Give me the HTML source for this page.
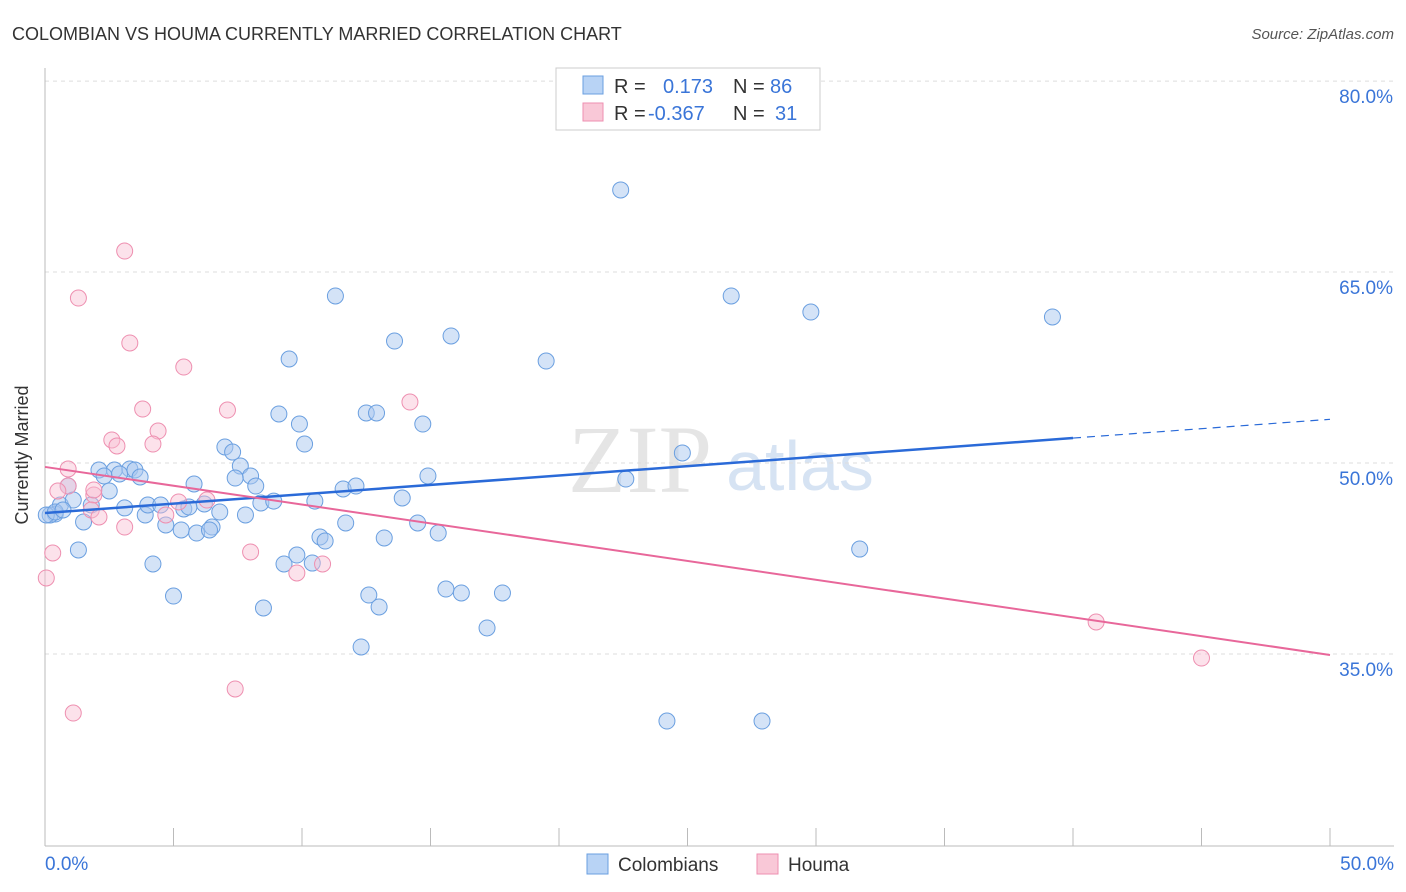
<!DOCTYPE html>
<html><head><meta charset="utf-8"><style>
body{margin:0;background:#fff;font-family:"Liberation Sans",sans-serif;}
</style></head><body>
<svg id="chart" width="1406" height="892" style="display:block">
<text x="12" y="40" font-size="18" fill="#333">COLOMBIAN VS HOUMA CURRENTLY MARRIED CORRELATION CHART</text>
<text x="1394" y="39" font-size="15" fill="#555" font-style="italic" text-anchor="end">Source: ZipAtlas.com</text>
<text x="640" y="492" font-size="96" fill="#e5e5e5" font-family="Liberation Serif,serif" text-anchor="middle">ZIP</text>
<text x="800" y="490" font-size="70" fill="#d6e3f3" text-anchor="middle">atlas</text>
<g id="grid"></g><g id="marks"></g>
<text x="28" y="455" font-size="18" fill="#333" transform="rotate(-90 28 455)" text-anchor="middle">Currently Married</text>
<g>
<rect x="556" y="68" width="264" height="62" fill="#fff" stroke="#ccc"/>
<rect x="583" y="76" width="20" height="18" fill="#b8d3f5" stroke="#6a9fe0"/>
<rect x="583" y="103" width="20" height="18" fill="#f9c8d7" stroke="#ee8fb0"/>
<text x="614" y="93" font-size="20" fill="#333">R =  <tspan fill="#3a75d8" x="663">0.173</tspan><tspan x="733" fill="#333">N = </tspan><tspan fill="#3a75d8" x="770">86</tspan></text>
<text x="614" y="120" font-size="20" fill="#333">R = <tspan fill="#3a75d8" x="648">-0.367</tspan><tspan x="733" fill="#333">N = </tspan><tspan fill="#3a75d8" x="775">31</tspan></text>
</g>
<g>
<rect x="587" y="854" width="21" height="20" fill="#b8d3f5" stroke="#6a9fe0"/>
<text x="618" y="871" font-size="19" fill="#333">Colombians</text>
<rect x="757" y="854" width="21" height="20" fill="#f9c8d7" stroke="#ee8fb0"/>
<text x="788" y="871" font-size="19" fill="#333">Houma</text>
</g>
</svg>
<script>
const yTicks=[80,65,50,35];
const xTickLabels=["0.0%","50.0%"];
const blueX=[22.4,11.3,26.7,29.8,39.2,15.8,13.6,19.5,9.5,9.1,9.9,12.5,12.9,14.7,10.1,7.0,7.3,7.6,8.0,7.4,8.2,5.8,2.1,2.7,3.3,3.5,3.7,2.3,2.9,2.5,0.9,0.6,0.4,0.2,1.1,1.8,1.5,3.1,3.9,4.0,4.5,4.7,5.3,5.4,5.6,6.2,5.9,6.5,6.4,6.8,7.8,8.4,8.9,10.5,11.6,12.1,13.9,14.9,22.6,24.8,11.7,10.7,10.9,13.2,14.5,15.3,9.8,9.3,10.4,4.2,1.3,5.0,8.5,12.6,13.0,15.6,16.2,17.8,17.2,12.3,24.2,27.9,31.7,0.05,0.4,0.7];
const blueY=[71.45,63.12,63.12,61.86,61.47,59.98,59.58,58.01,58.17,53.85,53.06,53.93,53.93,53.06,51.49,51.26,50.86,49.76,48.98,48.82,48.19,48.35,49.45,49.45,49.53,49.45,48.90,48.98,49.14,47.80,48.19,46.70,45.99,45.92,47.09,46.70,45.37,46.47,45.92,46.70,46.70,45.13,44.74,46.39,46.54,46.78,44.50,44.97,44.74,46.15,45.92,46.86,47.01,47.01,47.96,48.19,47.25,48.98,48.74,50.79,45.29,44.19,43.87,44.11,45.29,44.50,42.77,42.07,42.14,42.07,43.17,39.55,38.61,39.63,38.69,40.10,39.79,39.79,37.04,35.55,29.73,29.73,43.24,45.92,46.15,46.31];
const pinkX=[3.1,1.3,3.3,5.4,3.8,7.1,14.2,4.4,2.6,2.8,4.2,0.9,0.9,0.5,1.9,1.8,2.1,3.1,4.7,5.2,8.0,0.3,0.05,9.8,10.8,7.4,1.1,40.9,45.0,6.3,1.9];
const pinkY=[66.65,62.96,59.43,57.54,54.24,54.16,54.79,52.51,51.81,51.34,51.49,49.53,48.19,47.80,47.49,46.31,45.76,44.97,45.92,46.94,43.01,42.93,40.97,41.36,42.07,32.25,30.36,37.51,34.68,47.09,47.88];
const blueLine=[46.07,51.96,40]; // y at x=0, y at x=40, solid end
const pinkLine=[49.69,34.92];
const X=v=>45+v*25.7, Y=v=>463-(v-50)*12.73;
const NS="http://www.w3.org/2000/svg";
const grid=document.getElementById('grid'), marks=document.getElementById('marks');
function mk(tag,at,par){const e=document.createElementNS(NS,tag);for(const k in at)e.setAttribute(k,at[k]);par.appendChild(e);return e;}
yTicks.forEach(t=>{
 const l=mk('line',{x1:45,x2:1394,y1:Y(t),y2:Y(t),stroke:'#ddd','stroke-dasharray':'4,4'},grid);
 
 
 const tx=mk('text',{x:1393,y:Y(t)+22,'font-size':19,fill:'#3a75d8','text-anchor':'end'},grid);
 tx.textContent=t.toFixed(1)+'%';
 
 
});
const ax=mk('line',{x1:45,x2:45,y1:68,y2:846,stroke:'#bbb'},grid);


const bx=mk('line',{x1:45,x2:1394,y1:846,y2:846,stroke:'#bbb'},grid);


for(let i=0;i<=10;i++){const t=mk('line',{x1:X(i*5),x2:X(i*5),y1:828,y2:846,stroke:'#bbb'},grid);
 
 }
xTickLabels.forEach((s,i)=>{const t=mk('text',{x:i?1394:45,y:870,'font-size':19,fill:'#3a75d8','text-anchor':i?'end':'start'},grid);t.textContent=s;
 
 });
blueX.forEach((v,i)=>{const c=mk('circle',{cx:X(v),cy:Y(blueY[i]),r:8,fill:'rgba(170,200,240,0.5)',stroke:'#6a9fe0','stroke-width':1},marks);
 
 });
pinkX.forEach((v,i)=>{const c=mk('circle',{cx:X(v),cy:Y(pinkY[i]),r:8,fill:'rgba(248,190,210,0.45)',stroke:'#ee8fb0','stroke-width':1},marks);
 
 });
const bs=(blueLine[1]-blueLine[0])/40;
const l1=mk('line',{x1:X(0),y1:Y(blueLine[0]),x2:X(blueLine[2]),y2:Y(blueLine[0]+bs*blueLine[2]),stroke:'#2a6ad8','stroke-width':2.5},marks);


const l2=mk('line',{x1:X(blueLine[2]),y1:Y(blueLine[0]+bs*blueLine[2]),x2:X(50),y2:Y(blueLine[0]+bs*50),stroke:'#2a6ad8','stroke-width':1.2,'stroke-dasharray':'8,6'},marks);


const l3=mk('line',{x1:X(0),y1:Y(pinkLine[0]),x2:X(50),y2:Y(pinkLine[1]),stroke:'#e8679a','stroke-width':2},marks);


</script>
</body></html>
